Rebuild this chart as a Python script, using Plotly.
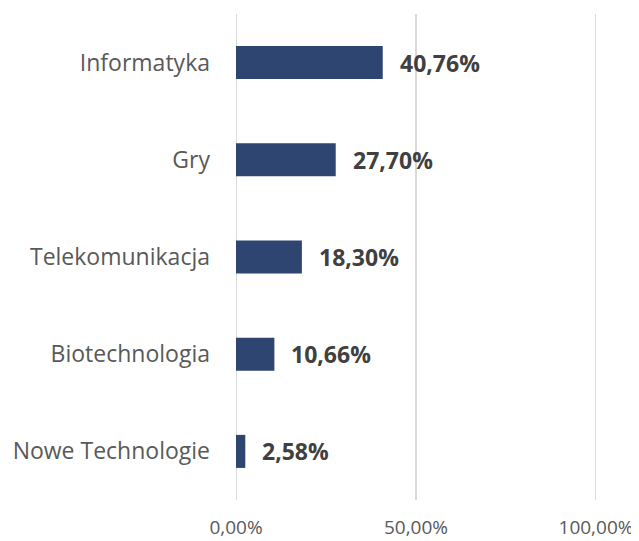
import plotly.graph_objects as go

categories = ["Informatyka", "Gry", "Telekomunikacja", "Biotechnologia", "Nowe Technologie"]
values = [40.76, 27.70, 18.30, 10.66, 2.58]
tick_vals = [0, 50, 100]
tick_text = ["0,00%", "50,00%", "100,00%"]

labels = [f"{v:.2f}%".replace(".", ",") for v in values]

FONT = "'Open Sans', sans-serif"

fig = go.Figure(go.Bar(
    x=values,
    y=categories,
    orientation="h",
    marker=dict(color="#2E4571", line=dict(width=0)),
    width=0.34,
    hoverinfo="skip",
))

for c, v, t in zip(categories, values, labels):
    fig.add_annotation(x=v, y=c, text=f"<b>{t}</b>", showarrow=False,
                       xanchor="left", yanchor="middle", xshift=15,
                       font=dict(family=FONT, size=23, color="#404040"))

for tv in tick_vals:
    fig.add_shape(type="line", x0=tv, x1=tv, y0=0, y1=1, xref="x", yref="paper",
                  line=dict(color="#D9D9D9", width=2), layer="below")

# page body has an 8px margin, so the figure is sized to fit the window
fig.update_layout(
    width=631, height=533,
    margin=dict(l=228, r=43, t=6, b=41),
    paper_bgcolor="white", plot_bgcolor="white",
    showlegend=False,
    font=dict(family=FONT, size=23, color="#595959"),
    xaxis=dict(range=[0, 100], tickvals=tick_vals, ticktext=tick_text,
               showgrid=False, zeroline=False, showline=False, ticks="",
               automargin=False,
               ticklabelstandoff=14, tickfont=dict(size=19, color="#595959")),
    yaxis=dict(categoryorder="array", categoryarray=categories[::-1],
               showgrid=False, zeroline=False, showline=False, ticks="",
               automargin=False,
               ticklabelstandoff=25, tickfont=dict(size=23, color="#595959")),
)

fig.write_html("out.html")
